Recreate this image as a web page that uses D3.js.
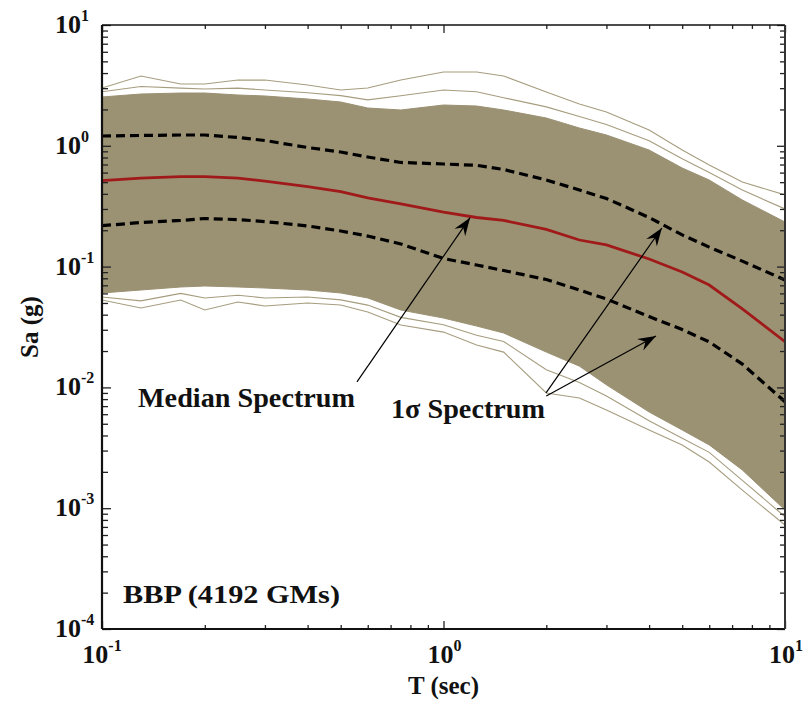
<!DOCTYPE html>
<html>
<head>
<meta charset="utf-8">
<script src="https://cdn.jsdelivr.net/npm/d3@7"></script>
<style>
  body { margin: 0; background: #fff; }
  text { font-family: "Liberation Serif", "DejaVu Serif", serif; font-weight: bold; fill: #111; }
</style>
</head>
<body>
<script>
// Periods (sec) the spectra are read at
const periods = [0.1, 0.13, 0.17, 0.2, 0.25, 0.3, 0.4, 0.5, 0.6, 0.75, 1, 1.25, 1.5, 2, 2.5, 3, 4, 5, 6, 7.5, 10];

// Median spectrum Sa (g)
const median = [0.514, 0.541, 0.555, 0.555, 0.541, 0.511, 0.460, 0.418, 0.370, 0.330, 0.283,
  0.255, 0.241, 0.203, 0.166, 0.151, 0.1156, 0.0903, 0.0704, 0.0446, 0.0239];
// +1 sigma / -1 sigma spectra
const plusSigma = [1.205, 1.217, 1.229, 1.229, 1.171, 1.106, 0.968, 0.888, 0.808, 0.728, 0.707,
  0.690, 0.637, 0.521, 0.431, 0.366, 0.255, 0.183, 0.145, 0.111, 0.0774];
const minusSigma = [0.218, 0.232, 0.241, 0.250, 0.245, 0.236, 0.217, 0.197, 0.179, 0.154, 0.1167,
  0.1031, 0.0928, 0.0782, 0.0640, 0.0539, 0.0386, 0.0301, 0.0238, 0.0156, 0.00761];

// dense part of the 4192 ground-motion spectra
const bandTop = [2.535, 2.684, 2.735, 2.735, 2.633, 2.584, 2.440, 2.305, 2.055, 1.979, 2.176,
  2.135, 1.979, 1.699, 1.404, 1.229, 0.923, 0.655, 0.521, 0.356, 0.234];
const bandBottom = [0.0605, 0.0640, 0.0678, 0.0691, 0.0678, 0.0665, 0.0640, 0.0605, 0.0550, 0.0437, 0.0375,
  0.0322, 0.0282, 0.0196, 0.0150, 0.0105, 0.00626, 0.00444, 0.00334, 0.00207, 0.000966];
// loose spectra just outside the dense part
const midTop = [2.8, 3.1, 3.0, 2.95, 3.0, 2.9, 2.75, 2.6, 2.4, 2.6, 2.9,
  2.8, 2.5, 2.1, 1.75, 1.5, 1.1, 0.78, 0.6, 0.43, 0.3];
const midBottom = [0.056, 0.052, 0.060, 0.055, 0.058, 0.055, 0.056, 0.053, 0.048, 0.038, 0.033,
  0.027, 0.024, 0.014, 0.011, 0.0085, 0.0053, 0.0038, 0.0029, 0.0017, 0.00085];
// stray spectra furthest out
const outerTop = [3.01, 3.78, 3.25, 3.25, 3.50, 3.50, 3.19, 2.90, 3.01, 3.50, 4.08,
  4.08, 3.78, 2.79, 2.22, 1.905, 1.352, 0.923, 0.694, 0.501, 0.392];
const outerBottom = [0.0529, 0.0454, 0.0529, 0.0437, 0.0509, 0.0472, 0.0500, 0.0481, 0.0421, 0.0329, 0.0287,
  0.0224, 0.0196, 0.00899, 0.00818, 0.00650, 0.00444, 0.00334, 0.00241, 0.00141, 0.000726];

// tick exponents
const xTickExps = [-1, 0, 1];
const yTickExps = [1, 0, -1, -2, -3, -4];

// annotation arrows [tailT, tailSa, tipT, tipSa]
const arrows = [
  [0.558, 0.0111, 1.196, 0.254],
  [1.996, 0.0090, 4.36, 0.2087],
  [2.0, 0.0085, 4.19, 0.0266]
];

const W = 805, H = 704;
const margin = { top: 25, right: 20, bottom: 75, left: 102 };

const svg = d3.select("body").append("svg")
  .attr("width", W)
  .attr("height", H);

const x = d3.scaleLog().domain([0.1, 10]).range([margin.left, W - margin.right]);
const y = d3.scaleLog().domain([1e-4, 10]).range([H - margin.bottom, margin.top]);

const rows = periods.map((t, i) => ({
  t, med: median[i], hi: plusSigma[i], lo: minusSigma[i],
  top: bandTop[i], bot: bandBottom[i], mtop: midTop[i], mbot: midBottom[i],
  otop: outerTop[i], obot: outerBottom[i]
}));

// clip to the axes box
svg.append("clipPath").attr("id", "clip")
  .append("rect")
  .attr("x", x.range()[0]).attr("y", y.range()[1])
  .attr("width", x.range()[1] - x.range()[0])
  .attr("height", y.range()[0] - y.range()[1]);

const plot = svg.append("g").attr("clip-path", "url(#clip)");

const khaki = "#9b9173";
const khakiLine = "#a69d7f";

// band of all spectra
plot.append("path")
  .datum(rows)
  .attr("fill", khaki)
  .attr("stroke", khaki)
  .attr("stroke-width", 1)
  .attr("d", d3.area().x(d => x(d.t)).y0(d => y(d.bot)).y1(d => y(d.top)));

// stray spectra at the edges
["otop", "obot", "mtop", "mbot"].forEach(k => {
  plot.append("path")
    .datum(rows)
    .attr("fill", "none")
    .attr("stroke", khakiLine)
    .attr("stroke-width", 1.1)
    .attr("d", d3.line().x(d => x(d.t)).y(d => y(d[k])));
});

// +/- 1 sigma
["hi", "lo"].forEach(k => {
  plot.append("path")
    .datum(rows)
    .attr("fill", "none")
    .attr("stroke", "#000")
    .attr("stroke-width", 3.2)
    .attr("stroke-dasharray", "9,5")
    .attr("d", d3.line().x(d => x(d.t)).y(d => y(d[k])));
});

// median
plot.append("path")
  .datum(rows)
  .attr("fill", "none")
  .attr("stroke", "#a01a1a")
  .attr("stroke-width", 2.8)
  .attr("d", d3.line().x(d => x(d.t)).y(d => y(d.med)));

// ---- axes (ticks pointing inward on all sides)
const xMajor = xTickExps.map(e => Math.pow(10, e));
const yMajor = yTickExps.map(e => Math.pow(10, e));
const xMinor = x.ticks().filter(v => !xMajor.some(m => Math.abs(m - v) < 1e-9));
const yMinor = y.ticks().filter(v => !yMajor.some(m => Math.abs(m - v) / m < 1e-9));

function tickAxis(axisFn, scale, values, size, pos) {
  const g = svg.append("g")
    .attr("transform", pos)
    .call(axisFn(scale).tickValues(values).tickSize(size).tickFormat(""));
  g.select(".domain").remove();
  g.selectAll("line").attr("stroke", "#222").attr("stroke-width", 1.3);
  return g;
}
const x0 = x.range()[0], x1 = x.range()[1], y0 = y.range()[0], y1 = y.range()[1];

tickAxis(d3.axisBottom, x, xMinor, -4, `translate(0,${y0})`);
tickAxis(d3.axisBottom, x, xMajor, -8, `translate(0,${y0})`);
tickAxis(d3.axisTop, x, xMinor, -4, `translate(0,${y1})`);
tickAxis(d3.axisTop, x, xMajor, -8, `translate(0,${y1})`);
tickAxis(d3.axisLeft, y, yMinor, -6, `translate(${x0},0)`);
tickAxis(d3.axisLeft, y, yMajor, -9, `translate(${x0},0)`);
tickAxis(d3.axisRight, y, yMinor, -5, `translate(${x1},0)`);
tickAxis(d3.axisRight, y, yMajor, -8, `translate(${x1},0)`);

// box
svg.append("line").attr("x1", x0).attr("x2", x1).attr("y1", y1).attr("y2", y1)
  .attr("stroke", "#111").attr("stroke-width", 1.5);
svg.append("line").attr("x1", x0).attr("x2", x1).attr("y1", y0).attr("y2", y0)
  .attr("stroke", "#111").attr("stroke-width", 2);
svg.append("line").attr("x1", x0).attr("x2", x0).attr("y1", y1).attr("y2", y0)
  .attr("stroke", "#111").attr("stroke-width", 2.2);
svg.append("line").attr("x1", x1).attr("x2", x1).attr("y1", y1).attr("y2", y0)
  .attr("stroke", "#333").attr("stroke-width", 2);

// tick labels 10^n
function powLabel(g, e) {
  g.append("tspan").text("10").attr("font-size", 26);
  g.append("tspan").text(e).attr("font-size", 16).attr("dy", -12);
}
yTickExps.forEach(e => {
  const t = svg.append("text")
    .attr("x", 55)
    .attr("y", y(Math.pow(10, e)) + 8);
  powLabel(t, e);
});
xTickExps.forEach(e => {
  const t = svg.append("text")
    .attr("x", x(Math.pow(10, e)) + (e < 0 ? 0 : 1))
    .attr("y", 663)
    .attr("text-anchor", "middle");
  powLabel(t, e);
});

// axis titles
svg.append("text")
  .attr("x", (x0 + x1) / 2).attr("y", 694)
  .attr("text-anchor", "middle")
  .attr("font-size", 25)
  .text("T (sec)");
svg.append("text")
  .attr("transform", `translate(38,${(y0 + y1) / 2}) rotate(-90)`)
  .attr("text-anchor", "middle")
  .attr("font-size", 25)
  .text("Sa (g)");

// annotations
svg.append("defs").append("marker")
  .attr("id", "head")
  .attr("viewBox", "-18 -7 19 14")
  .attr("refX", 0).attr("refY", 0)
  .attr("markerWidth", 19).attr("markerHeight", 14)
  .attr("markerUnits", "userSpaceOnUse")
  .attr("orient", "auto")
  .append("path")
  .attr("d", "M0,0 L-18,-6.5 L-12,0 L-18,6.5 Z")
  .attr("fill", "#000");

arrows.forEach(a => {
  svg.append("line")
    .attr("x1", x(a[0])).attr("y1", y(a[1]))
    .attr("x2", x(a[2])).attr("y2", y(a[3]))
    .attr("stroke", "#000").attr("stroke-width", 1.2)
    .attr("marker-end", "url(#head)");
});

svg.append("text").attr("x", 138).attr("y", 407).attr("font-size", 28)
  .attr("textLength", 217).attr("lengthAdjust", "spacingAndGlyphs").text("Median Spectrum");
svg.append("text").attr("x", 391).attr("y", 418).attr("font-size", 28)
  .attr("textLength", 154).attr("lengthAdjust", "spacingAndGlyphs").text("1σ Spectrum");
svg.append("text").attr("x", 123).attr("y", 603).attr("font-size", 26)
  .attr("textLength", 217).attr("lengthAdjust", "spacingAndGlyphs").text("BBP (4192 GMs)");
</script>
</body>
</html>
